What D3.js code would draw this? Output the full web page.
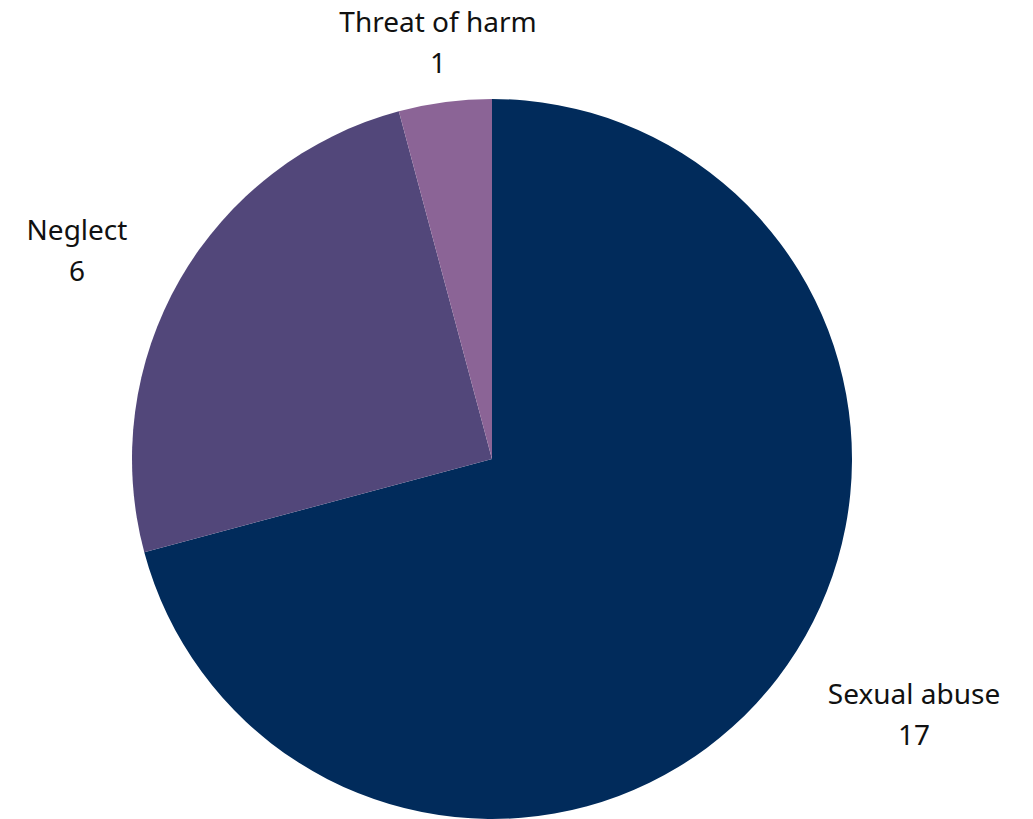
<!DOCTYPE html>
<html>
<head>
<meta charset="utf-8">
<script src="https://cdn.jsdelivr.net/npm/d3@7"></script>
<style>
  body { margin: 0; background: #fff; }
  svg { display: block; }
  .label { font-family: "Noto Sans", "Open Sans", sans-serif; font-size: 28px; fill: #111; }
</style>
</head>
<body>
<svg width="1033" height="819"></svg>
<script>
// data
const categories = ['Sexual abuse', 'Neglect', 'Threat of harm']
const values = [17, 6, 1]
const colors = ['#012b5b', '#52477a', '#8b6496']
// where each label sits (centre of the text block)
const labelPos = [[914, 704], [77, 240], [438, 32]]

const svg = d3.select('svg')
const cx = 492, cy = 459, radius = 360

const data = categories.map((c, i) => ({ name: c, value: values[i], color: colors[i], pos: labelPos[i] }))

const pie = d3.pie().value(d => d.value).sort(null)
const arc = d3.arc().innerRadius(0).outerRadius(radius)

const g = svg.append('g').attr('transform', 'translate(' + cx + ',' + cy + ')')

g.selectAll('path')
  .data(pie(data))
  .enter()
  .append('path')
    .attr('d', arc)
    .attr('fill', d => d.data.color)

const labels = svg.selectAll('.label')
  .data(data)
  .enter()
  .append('text')
    .attr('class', 'label')
    .attr('text-anchor', 'middle')
    .attr('x', d => d.pos[0])
    .attr('y', d => d.pos[1])

labels.append('tspan').attr('x', d => d.pos[0]).text(d => d.name)
labels.append('tspan').attr('x', d => d.pos[0]).attr('dy', 41).text(d => d.value)
</script>
</body>
</html>
